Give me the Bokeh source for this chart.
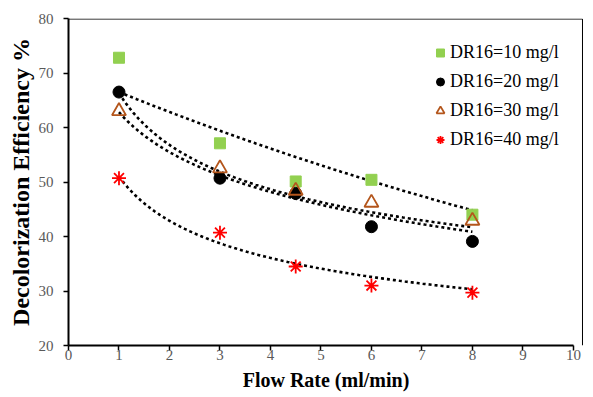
import numpy as np
from bokeh.plotting import figure
from bokeh.models import Legend, LegendItem, FixedTicker
from bokeh.embed import file_html
from bokeh.resources import INLINE

# ---- data ----
flow_rate = [1, 3, 4.5, 6, 8]
dr16_10 = [72.8, 57.1, 50.1, 50.4, 44.0]
dr16_20 = [66.5, 50.7, 47.9, 41.8, 39.1]
dr16_30 = [63.0, 52.5, 48.4, 46.2, 42.9]
dr16_40 = [50.7, 40.7, 34.5, 31.0, 29.7]
labels = ["DR16=10 mg/l", "DR16=20 mg/l", "DR16=30 mg/l", "DR16=40 mg/l"]
x_ticks = list(range(0, 11))
y_ticks = list(range(20, 81, 10))

# trend lines (dotted): kind and coefficients
trend_kinds = ["exp", "power", "log", "power"]
trend_a = [70.36, 66.3, 62.8, 51.0]
trend_b = [-0.0564, -0.223, -10.55, -0.25]
trend_range = [1, 8]

FONT = "Liberation Serif"
X_END = 10.2
Y_MIN, Y_MAX = 20, 80
BORDER_X = 10.18

p = figure(width=585, height=397, x_range=(0, X_END), y_range=(Y_MIN, Y_MAX),
           output_backend="svg", toolbar_location=None,
           min_border_left=68, min_border_right=2, min_border_top=18,
           min_border_bottom=52, background_fill_color="white",
           border_fill_color="white")
p.outline_line_color = None
p.grid.visible = False

# plot-area border: top and right edges (left/bottom are the axes)
p.line([0, BORDER_X, BORDER_X], [Y_MAX - 0.1, Y_MAX - 0.1, Y_MIN],
       line_color="black", line_width=1)

# trend lines
xt = np.linspace(trend_range[0], trend_range[1], 200)
for kind, a, b in zip(trend_kinds, trend_a, trend_b):
    if kind == "exp":
        yt = a * np.exp(b * xt)
    elif kind == "power":
        yt = a * xt ** b
    else:
        yt = a + b * np.log(xt)
    p.line(xt, yt, line_color="black", line_width=2.6, line_dash="3 3")

r1 = p.scatter(flow_rate, dr16_10, marker="square", size=11,
               fill_color="#92D050", line_color="#92D050")
r2 = p.scatter(flow_rate, dr16_20, marker="circle", size=12,
               fill_color="black", line_color="black")
r3 = p.scatter(flow_rate, dr16_30, marker="triangle", size=14,
               fill_color="white", fill_alpha=0.0, line_color="#B4561C", line_width=1.8)
r4 = p.scatter(flow_rate, dr16_40, marker="asterisk", size=14,
               line_color="#FF0000", line_width=1.8)

# axes
for ax in (p.xaxis, p.yaxis):
    ax.axis_line_width = 2
    ax.axis_line_color = "black"
    ax.major_tick_line_color = "black"
    ax.major_tick_line_width = 1.5
    ax.major_tick_out = 5
    ax.major_tick_in = 0
    ax.minor_tick_line_color = None
    ax.major_label_text_font = FONT
    ax.major_label_text_font_size = "15px"
    ax.major_label_text_color = "#595959"
    ax.axis_label_text_font = FONT
    ax.axis_label_text_font_style = "bold"
    ax.axis_label_text_color = "black"

p.xaxis.bounds = (0, 10)
p.xaxis.ticker = FixedTicker(ticks=x_ticks)
p.yaxis.ticker = FixedTicker(ticks=y_ticks)
p.xaxis.axis_label = "Flow Rate (ml/min)"
p.yaxis.axis_label = "Decolorization Efficiency %"
p.xaxis.axis_label_text_font_size = "20px"
p.yaxis.axis_label_text_font_size = "24px"
p.xaxis.axis_label_standoff = 6
p.yaxis.axis_label_standoff = 2
p.xaxis.major_label_standoff = -1
p.yaxis.major_label_standoff = 10

legend = Legend(items=[LegendItem(label=labels[0], renderers=[r1]),
                       LegendItem(label=labels[1], renderers=[r2]),
                       LegendItem(label=labels[2], renderers=[r3]),
                       LegendItem(label=labels[3], renderers=[r4])],
                location=(342, 173), orientation="vertical",
                label_text_font=FONT, label_text_font_size="18px",
                label_text_color="black",
                glyph_width=20, glyph_height=25, label_height=25,
                label_standoff=0, spacing=4, padding=20, margin=0,
                border_line_alpha=0.0, background_fill_alpha=0.0)
p.add_layout(legend, "center")

open("out.html", "w").write(file_html(p, INLINE))
